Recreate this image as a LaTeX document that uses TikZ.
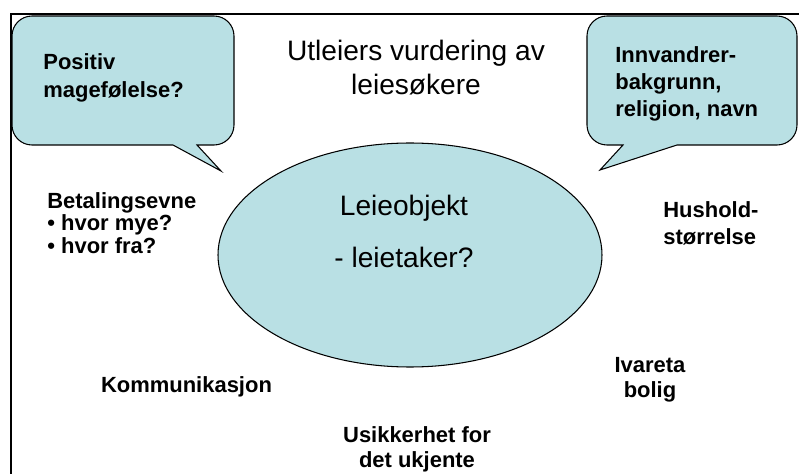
\documentclass[tikz,border=0pt]{standalone}
\usepackage{fontspec}
\setmainfont{Liberation Sans}
\definecolor{bubbleblue}{RGB}{185,224,228}
\tikzset{
  bubble/.style={fill=bubbleblue, draw=black, line width=0.6pt},
  heading/.style={font=\fontsize{16}{19.3}\selectfont, align=center, inner sep=0pt},
  factor/.style={font=\bfseries\fontsize{12.5}{15.2}\selectfont, inner sep=0pt},
}
\begin{document}
\begin{tikzpicture}
\useasboundingbox (0,0) rectangle (15.98,9.46);
\draw[line width=1.2pt] (0.22,-0.1) -- (0.22,9.18) -- (16.1,9.18); % Frame
\draw[bubble] (0.64,9.14) -- (4.28,9.14) arc[start angle=90,end angle=0,radius=0.4] -- (4.68,6.96) arc[start angle=0,end angle=-90,radius=0.4] -- (3.94,6.56) -- (4.42,6.04) -- (3.46,6.56) -- (0.64,6.56) arc[start angle=270,end angle=180,radius=0.4] -- (0.24,8.74) arc[start angle=180,end angle=90,radius=0.4] -- cycle; % Left bubble
\draw[bubble] (12.14,9.14) -- (15.54,9.14) arc[start angle=90,end angle=0,radius=0.4] -- (15.94,6.96) arc[start angle=0,end angle=-90,radius=0.4] -- (13.54,6.56) -- (12.0,6.06) -- (12.46,6.56) -- (12.14,6.56) arc[start angle=270,end angle=180,radius=0.4] -- (11.74,8.74) arc[start angle=180,end angle=90,radius=0.4] -- cycle; % Right bubble
\draw[bubble] (8.2,4.36) ellipse [x radius=3.84, y radius=2.24]; % Center ellipse
\node[heading] (title) at (8.32,8.10) {Utleiers vurdering av\\leiesøkere};
\node[heading, font=\fontsize{16}{29.6}\selectfont] (object) at (8.08,4.83) {Leieobjekt\\- leietaker?};
\node[factor, align=left, anchor=west, font=\bfseries\fontsize{12.5}{15.9}\selectfont] (gut) at (0.86,7.90) {Positiv\\magefølelse?};
\node[factor, align=left, anchor=west, font=\bfseries\fontsize{12.5}{15.2}\selectfont] (origin) at (12.30,7.78) {Innvandrer-\\bakgrunn,\\religion, navn};
\node[factor, align=left, anchor=west, font=\bfseries\fontsize{12.5}{12.8}\selectfont] (pay) at (0.94,5.00) {Betalingsevne\\\textbullet\ hvor mye?\\\textbullet\ hvor fra?};
\node[factor, align=left, anchor=west] (household) at (13.26,4.99) {Hushold-\\størrelse};
\node[factor, align=center, font=\bfseries\fontsize{12.5}{14.2}\selectfont] (care) at (13.0,1.86) {Ivareta\\bolig};
\node[factor] (talk) at (3.73,1.72) {Kommunikasjon};
\node[factor, align=center, font=\bfseries\fontsize{12.5}{14.2}\selectfont] (unknown) at (8.34,0.48) {Usikkerhet for\\det ukjente};
\end{tikzpicture}
\end{document}
